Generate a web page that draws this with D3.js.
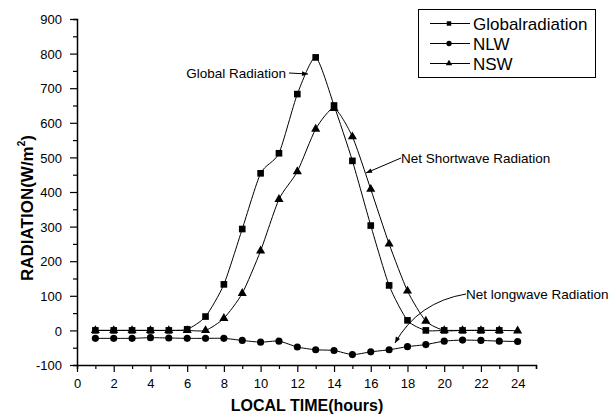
<!DOCTYPE html>
<html>
<head>
<meta charset="utf-8">
<script src="https://cdn.jsdelivr.net/npm/d3@7"></script>
<style>
  body { margin: 0; background: #fff; }
  text { font-family: Arial, "Liberation Sans", sans-serif; }
</style>
</head>
<body>
<svg id="chart" width="610" height="419"></svg>
<script>
// data
var hours = [1,2,3,4,5,6,7,8,9,10,11,12,13,14,15,16,17,18,19,20,21,22,23,24];
var globalRad = [0,0,0,0,0,3,40,133,293,454,512,683,789,650,490,303,130,29,0,0,0,0,0];
var nlw = [-23,-23,-23,-21,-22,-23,-23,-23,-29,-34,-31,-48,-56,-58,-70,-62,-56,-47,-41,-31,-28,-29,-31,-32];
var nsw = [0,0,0,0,0,0,0,35,107,230,379,459,582,642,560,408,250,114,27,0,0,0,0,-1];
var xTicks = [0,2,4,6,8,10,12,14,16,18,20,22,24];
var yTicks = [-100,0,100,200,300,400,500,600,700,800,900];

var svg = d3.select("#chart");

var x = d3.scaleLinear().domain([0, 25]).range([77, 536]);
var y = d3.scaleLinear().domain([-100, 900]).range([365, 19]);

// axes
var xAxis = svg.append("g").attr("transform", "translate(0,365)");
xAxis.call(d3.axisBottom(x).tickValues(d3.range(0, 26, 1)).tickSize(4).tickFormat(""));
var xMajor = xAxis.selectAll(".tick").filter(function(d) { return xTicks.indexOf(d) >= 0; });
xMajor.select("line").attr("y2", 7);
xMajor.append("text").attr("y", 23).attr("fill", "#000")
  .attr("text-anchor", "middle").style("font-size", "13px")
  .text(function(d) { return d; });

var yAxis = svg.append("g").attr("transform", "translate(77,0)");
yAxis.call(d3.axisLeft(y).tickValues(d3.range(-100, 901, 50)).tickSize(4).tickFormat(""));
var yMajor = yAxis.selectAll(".tick").filter(function(d) { return yTicks.indexOf(d) >= 0; });
yMajor.select("line").attr("x2", -7);
yMajor.append("text").attr("x", -15).attr("dy", "0.36em").attr("fill", "#000")
  .attr("text-anchor", "end").style("font-size", "13px")
  .text(function(d) { return d; });

svg.selectAll(".domain").attr("stroke", "#000").attr("stroke-width", 1.5);
svg.selectAll(".tick line").attr("stroke", "#000").attr("stroke-width", 1.2);

// axis titles
svg.append("text").attr("x", 307).attr("y", 411).attr("text-anchor", "middle")
  .style("font-size", "16px").style("font-weight", "bold").text("LOCAL TIME(hours)");

var yt = svg.append("text").attr("transform", "translate(33,208) rotate(-90)")
  .attr("text-anchor", "middle").style("font-size", "17px").style("font-weight", "bold");
yt.append("tspan").text("RADIATION(W/m");
yt.append("tspan").attr("dy", -8).style("font-size", "10px").text("2");
yt.append("tspan").attr("dy", 8).text(")");

// series
var line = d3.line().x(function(d) { return x(d[0]); }).y(function(d) { return y(d[1]); })
  .curve(d3.curveCardinal.tension(0.35));

var series = [
  { name: "Globalradiation", values: globalRad, shape: d3.symbolSquare, size: 44, lsize: 20 },
  { name: "NLW", values: nlw, shape: d3.symbolCircle, size: 40, lsize: 22 },
  { name: "NSW", values: nsw, shape: d3.symbolTriangle, size: 36, lsize: 18 }
];

series.forEach(function(s) {
  var pts = s.values.map(function(v, i) { return [hours[i], v]; });
  svg.append("path").datum(pts).attr("d", line)
    .attr("fill", "none").attr("stroke", "#000").attr("stroke-width", 1);
  svg.selectAll(null).data(pts).enter().append("path")
    .attr("d", d3.symbol().type(s.shape).size(s.size))
    .attr("transform", function(d) { return "translate(" + x(d[0]) + "," + y(d[1]) + ")"; })
    .attr("fill", "#000");
});

// legend
var lg = svg.append("g");
lg.append("rect").attr("x", 418.5).attr("y", 9.5).attr("width", 177).attr("height", 68)
  .attr("fill", "#fff").attr("stroke", "#000").attr("stroke-width", 1);
series.forEach(function(s, i) {
  var ly = 23.5 + i * 20;
  lg.append("line").attr("x1", 430).attr("x2", 470).attr("y1", ly).attr("y2", ly)
    .attr("stroke", "#000");
  lg.append("path").attr("d", d3.symbol().type(s.shape).size(s.lsize))
    .attr("transform", "translate(449," + ly + ")").attr("fill", "#000");
  lg.append("text").attr("x", 473).attr("y", ly).attr("dy", "0.36em")
    .style("font-size", "17px").text(s.name);
});

// annotations
svg.append("defs").append("marker").attr("id", "arr")
  .attr("viewBox", "0 0 10 10").attr("refX", 10).attr("refY", 5)
  .attr("markerWidth", 8).attr("markerHeight", 6).attr("orient", "auto")
  .append("path").attr("d", "M0,1 L10,5 L0,9 Z").attr("fill", "#000");

function note(txt, tx, ty, anchor, path) {
  svg.append("text").attr("x", tx).attr("y", ty).attr("dy", "0.35em")
    .attr("text-anchor", anchor).style("font-size", "13.5px").text(txt);
  svg.append("path").attr("d", path).attr("fill", "none").attr("stroke", "#000")
    .attr("stroke-width", 1).attr("marker-end", "url(#arr)");
}
note("Global Radiation", 286, 73, "end", "M289,73 L308,74");
note("Net Shortwave Radiation", 401, 158, "start", "M401,158 L366,173");
note("Net longwave Radiation", 466, 294, "start", "M466,294 Q418,302 395,343");
</script>
</body>
</html>
